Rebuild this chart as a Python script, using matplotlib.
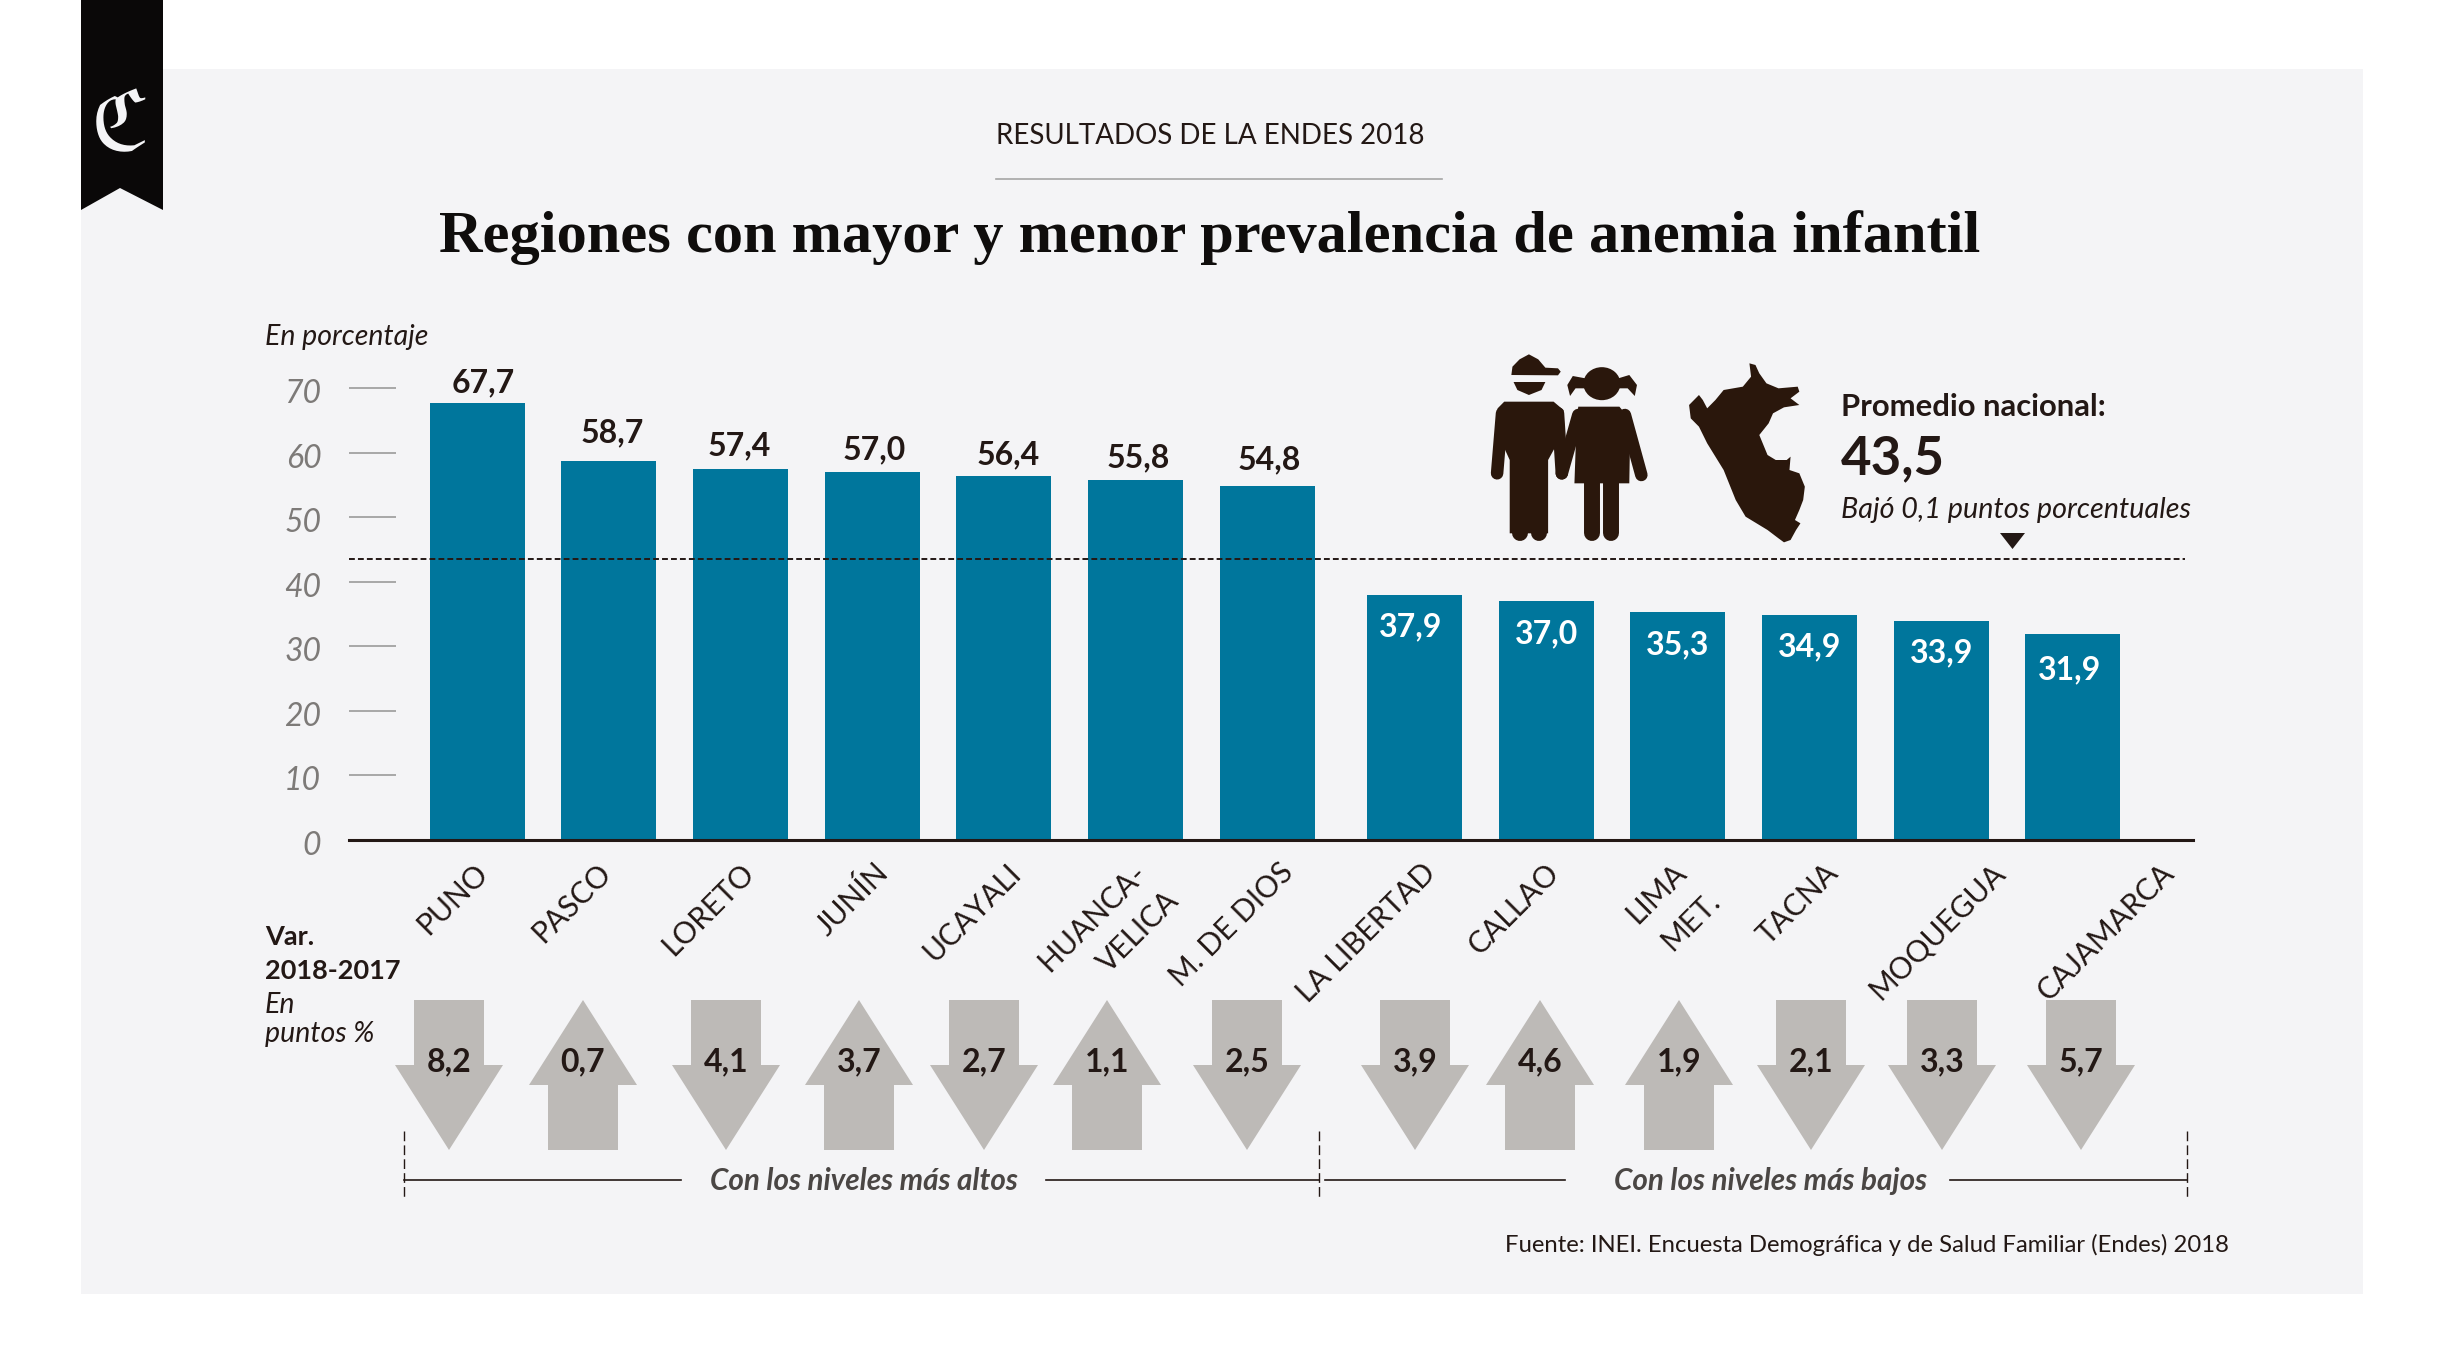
import matplotlib
matplotlib.use("Agg")
import matplotlib.pyplot as plt
from matplotlib.patches import Polygon, Rectangle, Ellipse
from matplotlib.transforms import ScaledTranslation

plt.rcParams["font.family"] = ["Lato", "DejaVu Sans"]

# Data
regions = ["PUNO", "PASCO", "LORETO", "JUNÍN", "UCAYALI", "HUANCA-\nVELICA", "M. DE DIOS",
           "LA LIBERTAD", "CALLAO", "LIMA\nMET.", "TACNA", "MOQUEGUA", "CAJAMARCA"]
anemia = [67.7, 58.7, 57.4, 57.0, 56.4, 55.8, 54.8, 37.9, 37.0, 35.3, 34.9, 33.9, 31.9]
variation = [-8.2, 0.7, -4.1, 3.7, -2.7, 1.1, -2.5, -3.9, 4.6, 1.9, -2.1, -3.3, -5.7]
national_avg = 43.5
y_ticks = [0, 10, 20, 30, 40, 50, 60, 70]

# Layout in pixels of the final image
W, H = 2444, 1367
label_end_x = [483, 606, 749, 884, 1016, 1141, 1289, 1431, 1555, 1682, 1834, 2000, 2170]
arrow_cx = [449, 583, 726, 859, 984, 1107, 1247, 1415, 1540, 1679, 1811, 1942, 2081]
# value labels sit a little unevenly in the original
label_dx = [0.047, 0.03, -0.012, 0.018, 0.035, 0.018, 0.012, -0.03, 0, 0, 0, 0, -0.024]
label_dy = [3.15, 4.35, 3.65, 3.35, 3.25, 3.45, 4.05, -4.85, -5.05, -5.05, -5.05, -4.85, -5.55]

INK = "#231815"
BLUE = "#00769c"
GREY = "#bdbab7"


def fmt(v):
    return f"{abs(v):.1f}".replace(".", ",")


fig = plt.figure(figsize=(W / 100, H / 100), dpi=100, facecolor="white")

# Background layer, drawn in pixels
bg = fig.add_axes([0, 0, 1, 1], zorder=0)
bg.set_xlim(0, W)
bg.set_ylim(H, 0)
bg.axis("off")
bg.add_patch(Rectangle((81, 69), 2282, 1225, fc="#f4f4f6", ec="none"))
bg.add_patch(Polygon([(81, 0), (163, 0), (163, 210), (120, 188), (81, 210)], fc="#0a0808", ec="none"))
bg.text(120, 127, "ℭ", family=["DejaVu Sans", "DejaVu Serif"], color="#f4f4f6", fontsize=60, ha="center", va="center")

# Bars
x_left, x_right, y_base, y_top = 349, 2193, 840, 388
chart = fig.add_axes([x_left / W, (H - y_base) / H, (x_right - x_left) / W, (y_base - y_top) / H], zorder=1)
chart.patch.set_alpha(0)
unit = 131.7
gap = 0.118
bar_x = [i + (gap if i >= 7 else 0) for i in range(len(anemia))]
chart.bar(bar_x, anemia, width=95 / unit, color=BLUE)
chart.set_xlim((x_left - 477) / unit, (x_right - 477) / unit)
chart.set_ylim(0, 70)
chart.axhline(national_avg, xmax=(2185 - x_left) / (x_right - x_left), color=INK, lw=1.4, ls=(0, (3, 1.6)))
chart.set_xticks([])
chart.set_yticks(y_ticks)
chart.tick_params(axis="y", direction="in", length=34, width=1.2, color="#9a9a9a", pad=20,
                  labelsize=23, labelcolor="#7d7a78")
# tick numbers hang slightly below their ticks
nudge = ScaledTranslation(0, -3 / 100, fig.dpi_scale_trans)
for lab in chart.get_yticklabels():
    lab.set_fontstyle("italic")
    lab.set_transform(lab.get_transform() + nudge)
for side in ["top", "left", "right"]:
    chart.spines[side].set_visible(False)
chart.spines["bottom"].set_color(INK)
chart.spines["bottom"].set_linewidth(2.2)

for i, (x, v) in enumerate(zip(bar_x, anemia)):
    chart.text(x + label_dx[i], v + label_dy[i], fmt(v), ha="center", va="center", fontsize=23, fontweight="bold",
               color=INK if i < 7 else "white")

# Top layer, drawn in pixels
top = fig.add_axes([0, 0, 1, 1], zorder=2)
top.set_xlim(0, W)
top.set_ylim(H, 0)
top.axis("off")
top.patch.set_alpha(0)

top.text(1210, 136, "RESULTADOS DE LA ENDES 2018", ha="center", va="center", fontsize=20, color=INK)
top.plot([996, 1442], [179, 179], color="#a5a5a5", lw=1.2)
top.text(1210, 238, "Regiones con mayor y menor prevalencia de anemia infantil", family="Liberation Serif",
         ha="center", va="center", fontsize=43.5, fontweight="bold", color="#0f0d0c")
top.text(265, 337, "En porcentaje", ha="left", va="center", fontsize=20.5, style="italic", color=INK)

# Region names, two-line names are split by hand
for name, x in zip(regions, label_end_x):
    for k, part in enumerate(name.split("\n")):
        top.text(x + 33 * k, 868 + 28 * k, part, rotation=45, rotation_mode="anchor", ha="right", va="center",
                 fontsize=21.5, color=INK)

# Variation arrows
top.text(265, 937, "Var.", ha="left", va="center", fontsize=19.5, fontweight="bold", color=INK)
top.text(265, 971, "2018-2017", ha="left", va="center", fontsize=19.5, fontweight="bold", color=INK)
top.text(265, 1005, "En", ha="left", va="center", fontsize=20.5, style="italic", color=INK)
top.text(265, 1034, "puntos %", ha="left", va="center", fontsize=20.5, style="italic", color=INK)
for cx, v in zip(arrow_cx, variation):
    if v < 0:
        pts = [(cx - 35, 1000), (cx + 35, 1000), (cx + 35, 1065), (cx + 54, 1065), (cx, 1150), (cx - 54, 1065), (cx - 35, 1065)]
    else:
        pts = [(cx, 1000), (cx + 54, 1085), (cx + 35, 1085), (cx + 35, 1150), (cx - 35, 1150), (cx - 35, 1085), (cx - 54, 1085)]
    top.add_patch(Polygon(pts, fc=GREY, ec="none"))
    top.text(cx, 1061.5, fmt(v), ha="center", va="center", fontsize=23, fontweight="bold", color=INK)

# Brackets
for x in [404, 1319, 2187]:
    top.plot([x, x], [1131, 1198], color=INK, lw=1, ls=(0, (7, 3)))
for x0, x1 in [(404, 681), (1046, 1319), (1325, 1565), (1950, 2187)]:
    top.plot([x0, x1], [1180, 1180], color=INK, lw=1.2)
top.text(864, 1181, "Con los niveles más altos", ha="center", va="center", fontsize=21.3, style="italic", fontweight="bold", color="#4a4644")
top.text(1771, 1181, "Con los niveles más bajos", ha="center", va="center", fontsize=21.3, style="italic", fontweight="bold", color="#4a4644")
top.text(2229, 1245, "Fuente: INEI. Encuesta Demográfica y de Salud Familiar (Endes) 2018", ha="right", va="center", fontsize=17.2, color=INK)

# National average note
top.text(1841, 407, "Promedio nacional:", ha="left", va="center", fontsize=22.3, fontweight="bold", color=INK)
top.text(1841, 459, "43,5", ha="left", va="center", fontsize=38, fontweight="bold", color=INK)
top.text(1841, 510, "Bajó 0,1 puntos porcentuales", ha="left", va="center", fontsize=20.7, style="italic", color=INK)
top.add_patch(Polygon([(2000, 533), (2025, 533), (2012.5, 549)], fc=INK, ec="none"))


# Icons, outlined from the reference (coordinates of the zoomed crop)
def ix(u):
    return 1400 + u / 1.823


def iy(v):
    return 320 + v / 3


def shape(points):
    top.add_patch(Polygon([(ix(u), iy(v)) for u, v in points], fc=ICON, ec="none"))


def limb(points, lw):
    top.plot([ix(u) for u, v in points], [iy(v) for u, v in points], color=ICON, lw=lw, solid_capstyle="round", solid_joinstyle="round")


ICON = "#2a170c"
peru = [(637, 130), (648, 135), (655, 160), (668, 190), (690, 205), (725, 200), (728, 215), (712, 235),
        (728, 255), (700, 262), (680, 280), (672, 310), (655, 345), (665, 385), (670, 405), (685, 420),
        (705, 420), (712, 410), (710, 450), (728, 460), (738, 500), (735, 540), (728, 570), (720, 600),
        (730, 610), (722, 630), (712, 660), (700, 667), (690, 655), (670, 630), (630, 590), (612, 540),
        (590, 450), (560, 370), (545, 320), (530, 295), (527, 255), (545, 225), (552, 240), (560, 265),
        (575, 240), (590, 210), (625, 200), (640, 170)]
shape(peru)

# boy
shape([(203, 165), (205, 140), (218, 118), (235, 103), (252, 118), (265, 143), (288, 145), (293, 155), (288, 166)])
shape([(207, 186), (265, 186), (258, 210), (235, 225), (214, 210)])
shape([(190, 245), (280, 245), (298, 270), (300, 330), (270, 420), (270, 640), (200, 640), (200, 420), (175, 330), (178, 265)])
limb([(186, 280), (177, 460)], 9)
limb([(288, 280), (295, 460)], 9)
limb([(218, 440), (218, 638)], 11.5)
limb([(253, 440), (253, 638)], 11.5)

# girl
top.add_patch(Ellipse((ix(368), iy(191)), 37, 33, fc=ICON, ec="none"))
shape([(338, 175), (315, 168), (305, 195), (310, 228), (320, 205), (338, 205)])
shape([(398, 175), (418, 165), (432, 195), (428, 228), (415, 205), (398, 205)])
shape([(325, 260), (400, 260), (420, 300), (418, 490), (318, 490), (322, 300)])
limb([(325, 285), (295, 460)], 9)
limb([(410, 285), (440, 465)], 9)
limb([(350, 480), (350, 638)], 11.5)
limb([(385, 480), (385, 638)], 11.5)

fig.savefig("out.png", dpi=100)
